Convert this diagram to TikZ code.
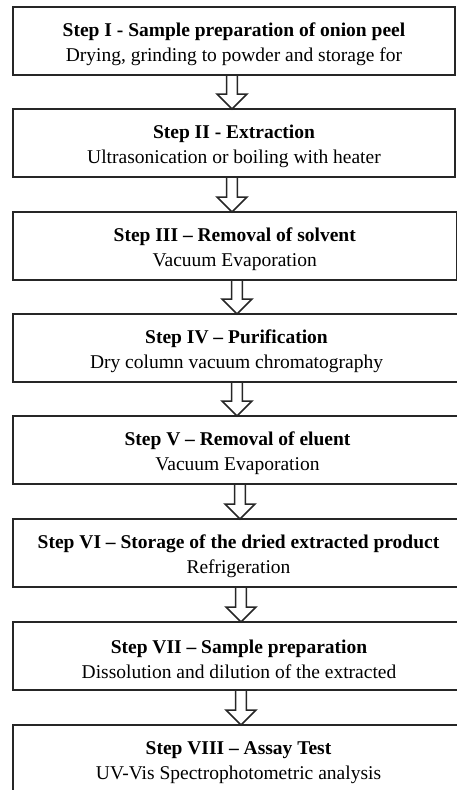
\documentclass[tikz,border=0pt]{standalone}
\usepackage{fontspec}
\setmainfont{Liberation Serif}
\usetikzlibrary{calc}
\newcommand\tallstrut{\rule{0pt}{20pt}}
\tikzset{
  stepbox/.style={draw=black!85, line width=1.7pt, rectangle, outer sep=0pt, inner sep=0pt,
    anchor=north west, minimum height=68pt, align=center,
    font=\fontsize{19.5}{25}\selectfont},
  arrowline/.style={draw=black!85, line width=1.5pt, line join=miter}
}
\newcommand\steparrow[3]{%
  \draw[arrowline] let \p1=(#1.south), \p2=(#2.north) in
   (#3pt-5.3pt,\y1) -- (#3pt-5.3pt,\y2+15pt) -- (#3pt-15pt,\y2+15pt) -- (#3pt,\y2)
   -- (#3pt+15pt,\y2+15pt) -- (#3pt+5.3pt,\y2+15pt) -- (#3pt+5.3pt,\y1);}
\begin{document}
\begin{tikzpicture}
\useasboundingbox (0,0) rectangle (457pt,-790pt);
\clip (0,0) rectangle (457pt,-790pt);
\fill[white] (0,0) rectangle (457pt,-790pt);
\node[stepbox, minimum width=442pt] (b1) at (13pt,-7pt)
  {\tallstrut\textbf{Step I - Sample preparation of onion peel}\\Drying, grinding to powder and storage for};
\node[stepbox, minimum width=442pt] (b2) at (13pt,-109pt)
  {\tallstrut\textbf{Step II - Extraction}\\Ultrasonication or boiling with heater};
\node[stepbox, minimum width=443.5pt] (b3) at (13pt,-212pt)
  {\tallstrut\textbf{Step III – Removal of solvent}\\Vacuum Evaporation};
\node[stepbox, minimum width=447pt] (b4) at (13pt,-314pt)
  {\tallstrut\textbf{Step IV – Purification}\\Dry column vacuum chromatography};
\node[stepbox, minimum width=449pt] (b5) at (13pt,-416pt)
  {\tallstrut\textbf{Step V – Removal of eluent}\\Vacuum Evaporation};
\node[stepbox, minimum width=451pt] (b6) at (13pt,-519pt)
  {\tallstrut\textbf{Step VI – Storage of the dried extracted product}\\Refrigeration};
\node[stepbox, minimum width=452pt] (b7) at (13pt,-622pt)
  {\tallstrut\textbf{Step VII – Sample preparation}\\Dissolution and dilution of the extracted};
\node[stepbox, minimum width=451pt] (b8) at (13pt,-725pt)
  {\tallstrut\textbf{Step VIII – Assay Test}\\UV-Vis Spectrophotometric analysis};
\steparrow{b1}{b2}{232}
\steparrow{b2}{b3}{232}
\steparrow{b3}{b4}{237}
\steparrow{b4}{b5}{237}
\steparrow{b5}{b6}{240}
\steparrow{b6}{b7}{241}
\steparrow{b7}{b8}{241}
\end{tikzpicture}
\end{document}
